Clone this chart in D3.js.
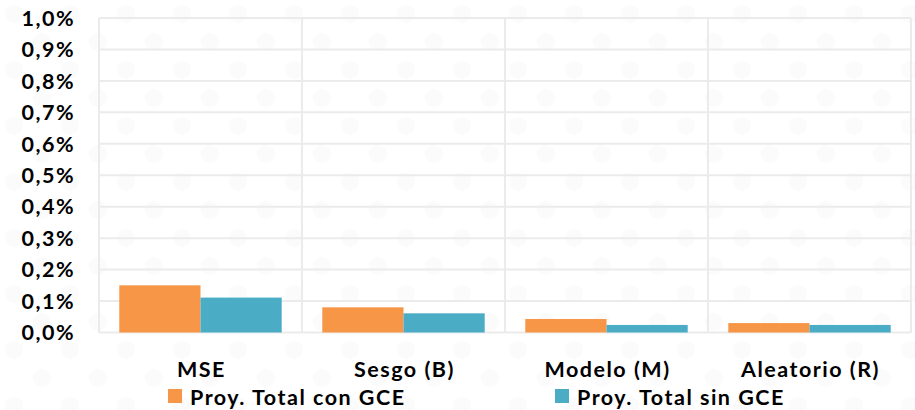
<!DOCTYPE html>
<html><head><meta charset="utf-8">
<script src="https://cdn.jsdelivr.net/npm/d3@7"></script>
<style>body{margin:0;background:#fff}svg{display:block}</style>
</head><body>
<svg id="c" width="915" height="410"></svg>
<script>
const categories = ["MSE", "Sesgo (B)", "Modelo (M)", "Aleatorio (R)"];
const seriesNames = ["Proy. Total con GCE", "Proy. Total sin GCE"];
const conGCE = [0.150, 0.080, 0.043, 0.030];
const sinGCE = [0.111, 0.061, 0.024, 0.024];
const yTicks = [0, 0.1, 0.2, 0.3, 0.4, 0.5, 0.6, 0.7, 0.8, 0.9, 1.0];
const colors = ["#F79646", "#4BACC6"];

const svg = d3.select("#c");
const W = 915, H = 410;
const m = {left: 99, right: 4, top: 18, bottom: 77.5};
const x = d3.scaleBand().domain(categories).range([m.left, W - m.right]).paddingInner(0).paddingOuter(0);
const y = d3.scaleLinear().domain([0, 1.0]).range([H - m.bottom, m.top]);
const font = "Lato, 'Open Sans', sans-serif";
const fs = 21.5, ls = "1.5px";

// faint background dots
const pat = svg.append("defs").append("pattern").attr("id","dots").attr("width",56).attr("height",56).attr("patternUnits","userSpaceOnUse");
pat.append("circle").attr("cx",14).attr("cy",14).attr("r",9).attr("fill","#fbfbfb");
pat.append("circle").attr("cx",42).attr("cy",42).attr("r",9).attr("fill","#fbfbfb");
svg.append("rect").attr("width",W).attr("height",H).attr("fill","#fff");
svg.append("rect").attr("width",W).attr("height",H).attr("fill","url(#dots)");

// grid
const g = svg.append("g");
g.selectAll("line.h").data(yTicks).join("line")
  .attr("x1", m.left).attr("x2", W - m.right)
  .attr("y1", d => y(d)).attr("y2", d => y(d))
  .attr("stroke", "#ebebeb").attr("stroke-width", 2);
const vx = categories.map(c => x(c)).concat([x.range()[1]]);
g.selectAll("line.v").data(vx).join("line")
  .attr("x1", d => d).attr("x2", d => d)
  .attr("y1", y(1.0)).attr("y2", y(0))
  .attr("stroke", "#ebebeb").attr("stroke-width", 2);

// y labels
svg.append("g").selectAll("text").data(yTicks).join("text")
  .attr("x", 75).attr("y", d => y(d)).attr("dy", "0.36em")
  .attr("text-anchor", "end").attr("font-family", font).attr("font-weight", "bold")
  .attr("font-size", fs).attr("letter-spacing", ls).attr("fill", "#000")
  .text(d => d3.format(".1f")(d).replace(".", ",") + "%");

// bars
const x1 = d3.scaleBand().domain([0, 1]).range([0, x.bandwidth()]).paddingInner(0).paddingOuter(0.25);
const data = [conGCE, sinGCE];
data.forEach((vals, si) => {
  svg.append("g").selectAll("rect").data(vals).join("rect")
    .attr("x", (d, i) => x(categories[i]) + x1(si))
    .attr("width", x1.bandwidth())
    .attr("y", d => y(d))
    .attr("height", d => y(0) - y(d))
    .attr("fill", colors[si]);
});

// x labels
svg.append("g").selectAll("text").data(categories).join("text")
  .attr("x", d => x(d) + x.bandwidth() / 2 + 1).attr("y", 377)
  .attr("text-anchor", "middle").attr("font-family", font).attr("font-weight", "bold")
  .attr("font-size", fs).attr("letter-spacing", ls).attr("fill", "#000").text(d => d);

// legend
const legX = [168, 555];
seriesNames.forEach((n, i) => {
  svg.append("rect").attr("x", legX[i]).attr("y", 389).attr("width", 14).attr("height", 14).attr("fill", colors[i]);
  svg.append("text").attr("x", legX[i] + 22).attr("y", 404.5)
    .attr("font-family", font).attr("font-weight", "bold").attr("font-size", fs)
    .attr("letter-spacing", ls).attr("fill", "#000").text(n);
});
</script>
</body></html>
